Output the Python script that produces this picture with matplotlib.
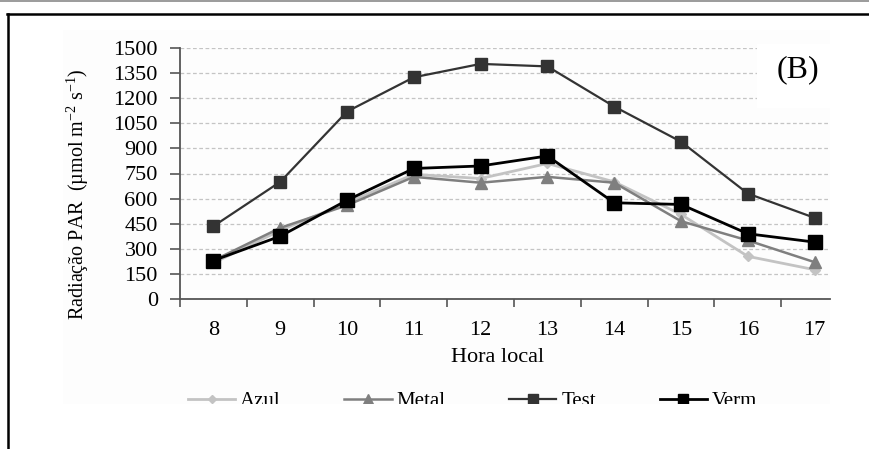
import matplotlib
matplotlib.use("Agg")
import matplotlib.pyplot as plt
from matplotlib.lines import Line2D
from matplotlib.patches import Rectangle

plt.rcParams['font.family'] = ['Liberation Serif', 'DejaVu Serif']
plt.rcParams['mathtext.fontset'] = 'custom'
plt.rcParams['mathtext.rm'] = 'Liberation Serif'
plt.rcParams['mathtext.it'] = 'Liberation Serif:italic'

# Hourly PAR readings under each treatment
hours = [8, 9, 10, 11, 12, 13, 14, 15, 16, 17]
azul = [215, 410, 575, 745, 720, 810, 700, 505, 255, 175]
metal = [230, 425, 560, 730, 695, 730, 695, 465, 350, 220]
test = [435, 700, 1120, 1325, 1405, 1390, 1150, 940, 630, 485]
verm = [230, 375, 590, 780, 795, 855, 575, 565, 390, 340]
y_ticks = [0, 150, 300, 450, 600, 750, 900, 1050, 1200, 1350, 1500]

W, H = 870, 449
fig = plt.figure(figsize=(W / 100, H / 100), dpi=100)


def fx(px):
    return px / W


def fy(py):
    return 1 - py / H


# faint panel background
fig.add_artist(Rectangle((fx(63), fy(404)), fx(830) - fx(63), fy(30) - fy(404),
                         transform=fig.transFigure, facecolor='#fdfdfd',
                         edgecolor='none', zorder=-5))

ax = fig.add_axes([fx(180), fy(299), fx(830) - fx(180), fy(48) - fy(299)])
ax.patch.set_alpha(0)

idx = list(range(len(hours)))
ax.plot(idx, azul, color='#c3c3c3', lw=2.0, marker='D', ms=5.5,
        mfc='#c3c3c3', mec='#c3c3c3', label='Azul', zorder=3)
ax.plot(idx, metal, color='#7f7f7f', lw=1.8, marker='^', ms=9,
        mfc='#7f7f7f', mec='#7f7f7f', label='Metal', zorder=4)
ax.plot(idx, test, color='#333333', lw=1.6, marker='s', ms=8.2,
        mfc='#333333', mec='#333333', label='Test', zorder=5)
ax.plot(idx, verm, color='#000000', lw=2.0, marker='s', ms=9.6,
        mfc='#000000', mec='#000000', label='Verm', zorder=6)

ax.set_xlim(-0.5, 9.23)
ax.set_ylim(0, 1500)
ax.set_yticks(y_ticks)
ax.set_yticklabels([str(v) for v in y_ticks])
ax.yaxis.grid(True, color='#c4c4c4', ls=(0, (3, 2)), lw=0.9)
ax.set_axisbelow(True)

# tick marks between hours, labels centred on each hour
ax.set_xticks([i - 0.5 for i in range(len(hours))])
ax.set_xticklabels([])
ax.set_xticks(idx, minor=True)
ax.set_xticklabels([str(h) for h in hours], minor=True)
ax.tick_params(axis='x', which='major', direction='out', length=6,
               width=1.2, color='#555555')
ax.tick_params(axis='x', which='minor', length=0, pad=16, labelsize=16)
ax.tick_params(axis='y', direction='out', length=7, width=1.2,
               color='#555555', pad=9, labelsize=16)

for s in ['top', 'right']:
    ax.spines[s].set_visible(False)
for s in ['left', 'bottom']:
    ax.spines[s].set_color('#555555')
    ax.spines[s].set_linewidth(1.3)

fig.text(fx(498), fy(358), 'Hora local', ha='center', va='center', fontsize=16)
fig.text(fx(78), fy(194), r'Radiação PAR  (µmol m$^{-2}$ s$^{-1}$)',
         rotation=90, ha='center', va='center', fontsize=14.5)

# panel tag on a white patch
fig.add_artist(Rectangle((fx(757), fy(108)), fx(832) - fx(757), fy(44) - fy(108),
                         transform=fig.transFigure, facecolor='white',
                         edgecolor='none', zorder=2))
fig.text(fx(798), fy(70), '(B)', ha='center', va='center', fontsize=23, zorder=3)

leg = ax.legend(loc='center left', bbox_to_anchor=(fx(188), fy(401)),
                bbox_transform=fig.transFigure, ncol=4, frameon=False,
                fontsize=15, handlelength=2.26, handletextpad=0.25,
                columnspacing=3.05, borderpad=0, borderaxespad=0,
                markerscale=0.8)

# lower part of the panel is cut off
fig.add_artist(Rectangle((fx(10), 0), 1 - fx(10), fy(404),
                         transform=fig.transFigure, facecolor='white',
                         edgecolor='none', zorder=10))

# frame lines
fig.add_artist(Line2D([0, 1], [fy(0.5), fy(0.5)], transform=fig.transFigure,
                      color='#8a8a8a', lw=1.2, zorder=11))
fig.add_artist(Line2D([fx(7), 1], [fy(13.5), fy(13.5)], transform=fig.transFigure,
                      color='black', lw=1.8, zorder=11))
fig.add_artist(Line2D([fx(8), fx(8)], [fy(13.5), 0], transform=fig.transFigure,
                      color='black', lw=1.8, zorder=11))

fig.savefig('out.png', dpi=100)
